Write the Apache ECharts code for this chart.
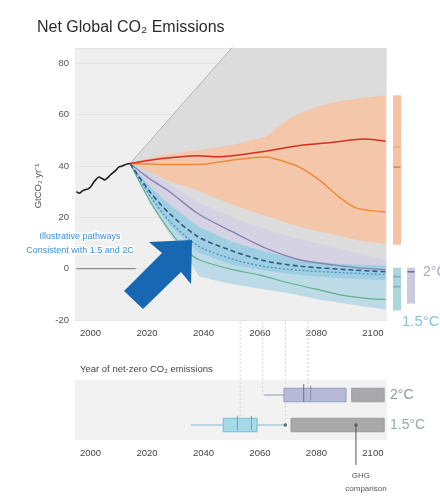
<!DOCTYPE html>
<html>
<head>
<meta charset="utf-8">
<script src="https://cdn.jsdelivr.net/npm/echarts@6/dist/echarts.min.js"></script>
<style>
  html, body { margin: 0; padding: 0; background: #ffffff; }
  #chart { width: 440px; height: 497px; }
</style>
</head>
<body>
<div id="chart"></div>
<script>
// ---- Axis ticks ----
const yearTicks = [2000, 2020, 2040, 2060, 2080, 2100];
const emissionTicks = [-20, 0, 20, 40, 60, 80];

// ---- Net global CO2 emissions, GtCO2 per year, as [year, value] ----
const historical = [[1995, 30], [1996, 29.4], [1997, 30.2], [1998, 30.8], [1999, 31], [2000, 31.8],
  [2001, 33.5], [2002, 34.8], [2003, 35.7], [2004, 35.2], [2005, 34.6], [2006, 35.4], [2007, 36.5],
  [2008, 37.4], [2009, 38.4], [2010, 39.6], [2011, 39.9], [2012, 40.4], [2013, 40.8], [2014, 41]];

// full scenario envelope (upper edge)
const scenarioTop = [[2014, 41], [2050, 86], [2105, 155]];

// no-policy baseline range and two baseline pathways
const baselineUpper = [[2014, 41], [2021, 43.1], [2028, 44.7], [2038, 46.2], [2050, 48.2], [2062, 51.3],
  [2068, 56.7], [2074, 60.6], [2080, 62.9], [2086, 64.9], [2095, 66.4], [2104.5, 67.6]];
const baselineLower = [[2014, 41], [2021, 37.7], [2028, 34], [2038, 30.5], [2050, 25], [2062, 20.5],
  [2074, 16.3], [2086, 13.3], [2095, 11], [2104.5, 9.7]];
const baselineHigh = [[2014, 41], [2021, 42.3], [2030, 43.4], [2038, 44], [2045, 43.6], [2050, 44],
  [2062, 45.8], [2074, 48], [2086, 49.3], [2097, 50.5], [2104.5, 49.7]];
const baselineMid = [[2014, 41], [2021, 40.8], [2030, 40.6], [2038, 40.6], [2050, 42.3], [2062, 43.5],
  [2069, 41.6], [2074, 39.6], [2081, 34.6], [2088, 28], [2094, 23.7], [2104.5, 22.1]];

// 2 °C and 1.5 °C ranges
const twoDegreeUpper = [[2014, 41], [2021, 37.5], [2028, 33], [2038, 26], [2050, 20], [2062, 15.5],
  [2074, 11.5], [2086, 8.5], [2095, 6], [2104.5, 3.5]];
const onePointFiveUpper = [[2014, 41], [2021, 32], [2028, 25], [2038, 16.5], [2050, 10.5], [2062, 6.6],
  [2074, 3.5], [2086, 2], [2095, 1.5], [2104.5, 1.2]];
const onePointFiveCoreLower = [[2014, 41], [2021, 27.5], [2028, 17], [2038, 6.5], [2050, 1.5], [2062, -0.8],
  [2074, -2.5], [2086, -3.5], [2095, -4], [2104.5, -4.5]];
const onePointFiveLower = [[2014, 41], [2017, 36], [2021, 25.5], [2028, 13.5], [2034, 5], [2038.5, -3],
  [2048, -5.5], [2057, -7.2], [2069, -9.3], [2081, -12], [2092.5, -14], [2104.5, -15.9]];

// illustrative pathways
const pathwayTwoDegree = [[2014, 41], [2021, 35], [2028, 30], [2038, 21.5], [2050, 14.5], [2062, 8],
  [2074, 3.5], [2086, 1.5], [2095, 0.3], [2104.5, -0.4]];
const pathwayDashed = [[2014, 41], [2021, 30], [2028, 21.5], [2038, 12.5], [2050, 7], [2062, 3],
  [2074, 1], [2091, -0.4], [2104.5, -1.2]];
const pathwayDotted = [[2014, 41], [2021, 28.5], [2028, 18.5], [2038, 9], [2050, 3.8], [2062, 0.8],
  [2074, -0.6], [2090, -1.6], [2104.5, -2.3]];
const pathwayDeep = [[2014, 41], [2021, 26.5], [2028, 14.8], [2034, 7], [2038.5, 3.5], [2050, -0.3],
  [2060, -2.5], [2070, -5.5], [2080, -8], [2090, -10.5], [2100, -11.8], [2104.5, -12]];
const zeroReference = [[1995, 0], [2016, 0]];

// ---- Ranges in 2100 (side bars) ----
const sideColumns = ['baseline / 1.5°C', '2°C'];
const range2100Baseline = [9.3, 67.6];
const range2100OnePointFive = [-16.3, 0.4];
const range2100TwoDegree = [-13.6, 0.4];
const marks2100Baseline = [39.6, 47.4];
const marks2100OnePointFive = [-3.1, -7];
const marks2100TwoDegree = [-1.2];

// ---- Year of net-zero CO2 emissions ----
const netZeroRows = ['1.5°C', '2°C'];
const twoDegreeWhisker = [2061.5, 2068.5];
const twoDegreeBox = [2068.5, 2090.5];
const twoDegreeMedian = 2075.5;
const twoDegreeTicks = [2078];
const twoDegreeGhg = [2092.5, 2104];
const onePointFiveWhisker = [2035.5, 2069];
const onePointFiveBox = [2047, 2059];
const onePointFiveTicks = [2052, 2057];
const onePointFiveOutlier = 2069;
const onePointFiveGhg = [2071, 2104];
const onePointFiveGhgMark = 2094;
const netZeroGuides = [[2053, 0], [2061, 1], [2069, 0], [2077, 1]];

const FONT = '"Liberation Sans", Arial, sans-serif';

// polygon band between two edges, drawn through the cartesian scales
function band(upper, lower, color, z) {
  const ring = upper.concat(lower.slice().reverse());
  return {
    type: 'custom', xAxisIndex: 0, yAxisIndex: 0, clip: true, silent: true, z: z || 2,
    encode: { x: 0, y: 1 },
    data: ring,
    renderItem(params, api) {
      if (params.dataIndex !== 0) return;
      return { type: 'polygon', shape: { points: ring.map(p => api.coord(p)) }, style: { fill: color } };
    }
  };
}
function path(data, color, width, type) {
  return {
    type: 'line', xAxisIndex: 0, yAxisIndex: 0, data, showSymbol: false, symbol: 'none',
    smooth: 0.3, silent: true, lineStyle: { color, width, type: type || 'solid' }
  };
}

// side range bars
function sideBars(items) {
  return {
    type: 'custom', xAxisIndex: 2, yAxisIndex: 2, silent: true, data: items,
    renderItem(params, api) {
      const lo = api.coord([api.value(0), api.value(1)]);
      const hi = api.coord([api.value(0), api.value(2)]);
      const w = api.size([1, 0])[0] * 0.58;
      return { type: 'rect', shape: { x: lo[0] - w / 2, y: hi[1], width: w, height: lo[1] - hi[1] },
        style: { fill: api.visual('color') } };
    }
  };
}
function sideMarks(items) {
  return {
    type: 'custom', xAxisIndex: 2, yAxisIndex: 2, silent: true, data: items, z: 3,
    renderItem(params, api) {
      const p = api.coord([api.value(0), api.value(1)]);
      const w = api.size([1, 0])[0] * 0.5;
      return { type: 'line', shape: { x1: p[0] - w / 2, y1: p[1], x2: p[0] + w / 2, y2: p[1] },
        style: { stroke: api.visual('color'), lineWidth: 1.5 } };
    }
  };
}

// net-zero boxes: [start, end, row]
function nzRects(items, heightRatio) {
  return {
    type: 'custom', xAxisIndex: 1, yAxisIndex: 1, silent: true, data: items,
    renderItem(params, api) {
      const a = api.coord([api.value(0), api.value(2)]);
      const b = api.coord([api.value(1), api.value(2)]);
      const h = api.size([0, 1])[1] * heightRatio;
      return { type: 'rect', shape: { x: a[0], y: a[1] - h / 2, width: b[0] - a[0], height: h },
        style: { fill: api.visual('color'), stroke: api.visual('borderColor'), lineWidth: 1 } };
    }
  };
}
function nzLines(items) {
  return {
    type: 'custom', xAxisIndex: 1, yAxisIndex: 1, silent: true, data: items,
    renderItem(params, api) {
      const a = api.coord([api.value(0), api.value(2)]);
      const b = api.coord([api.value(1), api.value(2)]);
      return { type: 'line', shape: { x1: a[0], y1: a[1], x2: b[0], y2: b[1] },
        style: { stroke: api.visual('color'), lineWidth: 1 } };
    }
  };
}
// vertical marks on a box: [year, row, extent ratio]
function nzTicks(items) {
  return {
    type: 'custom', xAxisIndex: 1, yAxisIndex: 1, silent: true, data: items, z: 4,
    renderItem(params, api) {
      const p = api.coord([api.value(0), api.value(1)]);
      const h = api.size([0, 1])[1] * api.value(2);
      return { type: 'line', shape: { x1: p[0], y1: p[1] - h / 2, x2: p[0], y2: p[1] + h / 2 - 4 },
        style: { stroke: api.visual('color'), lineWidth: 1 } };
    }
  };
}

const baseAxisX = (gridIndex) => ({
  gridIndex, type: 'value', min: 1994.5, max: 2105,
  axisLine: { show: false }, axisTick: { show: false }, splitLine: { show: false },
  axisLabel: { customValues: yearTicks, formatter: v => String(v), color: '#444', fontSize: 9.5, fontFamily: FONT, margin: 8 }
});

const option = {
  animation: false,
  backgroundColor: '#ffffff',
  textStyle: { fontFamily: FONT },
  grid: [
    { left: 75, right: 53, top: 48, bottom: 177, show: true, backgroundColor: '#efefef', borderWidth: 0 },
    { left: 75, right: 53, top: 380, bottom: 57, show: true, backgroundColor: '#f2f2f2', borderWidth: 0 },
    { left: 390, right: 22, top: 48, bottom: 177, show: false }
  ],
  xAxis: [
    baseAxisX(0),
    baseAxisX(1),
    { gridIndex: 2, type: 'category', data: sideColumns, show: false }
  ],
  yAxis: [
    { gridIndex: 0, type: 'value', min: -20, max: 86, interval: 20,
      axisLine: { show: false }, axisTick: { show: false },
      splitLine: { show: true, lineStyle: { color: '#e4e4e4', width: 1 } },
      axisLabel: { customValues: emissionTicks, formatter: v => String(v), color: '#555', fontSize: 9.5, fontFamily: FONT, margin: 6 } },
    { gridIndex: 1, type: 'category', data: netZeroRows, position: 'right',
      axisLine: { show: false }, axisTick: { show: false }, splitLine: { show: false },
      axisLabel: { margin: 3, fontSize: 14, fontFamily: FONT,
        formatter: v => v === '2°C' ? '{b|' + v + '}' : '{a|' + v + '}',
        rich: { a: { color: '#9aa7b2', fontSize: 14, fontFamily: FONT }, b: { color: '#8f96ad', fontSize: 14, fontFamily: FONT } } } },
    { gridIndex: 2, type: 'value', min: -20, max: 86, show: false }
  ],
  series: [
    band(scenarioTop, onePointFiveLower, '#dcdcdd'),
    band(baselineUpper, baselineLower, '#f4c6aa'),
    band(twoDegreeUpper, onePointFiveUpper, '#d4d2e3'),
    band(onePointFiveUpper, onePointFiveLower, '#bcdbe7'),
    band(onePointFiveUpper, onePointFiveCoreLower, '#9fcee3'),
    path(scenarioTop, '#b4b4b4', 1),
    path(zeroReference, '#8a8a8a', 1.2),
    path(pathwayDeep, '#62b08c', 1.2),
    path(pathwayTwoDegree, '#8b82b2', 1.4),
    path(pathwayDotted, '#4a93c4', 1.3, [2, 2]),
    path(pathwayDashed, '#2c5b85', 1.6, [5, 3]),
    path(baselineMid, '#ef8a3a', 1.5),
    path(baselineHigh, '#d62f22', 1.5),
    path(historical, '#1e1e1e', 1.6),

    sideBars([
      { value: [0, range2100Baseline[0], range2100Baseline[1]], itemStyle: { color: '#f4c3a6' } },
      { value: [0, range2100OnePointFive[0], range2100OnePointFive[1]], itemStyle: { color: '#acd6db' } },
      { value: [1, range2100TwoDegree[0], range2100TwoDegree[1]], itemStyle: { color: '#cdc9de' } }
    ]),
    sideMarks(
      marks2100Baseline.map((v, i) => ({ value: [0, v], itemStyle: { color: i === 0 ? '#e27d45' : '#efa58a' } }))
        .concat(marks2100OnePointFive.map(v => ({ value: [0, v], itemStyle: { color: '#6fb1b9' } })))
        .concat(marks2100TwoDegree.map(v => ({ value: [1, v], itemStyle: { color: '#6e6a94' } })))
    ),

    nzLines([
      { value: [twoDegreeWhisker[0], twoDegreeWhisker[1], 1], itemStyle: { color: '#8d96b0' } },
      { value: [onePointFiveWhisker[0], onePointFiveWhisker[1], 0], itemStyle: { color: '#82b6cf' } }
    ]),
    nzRects([
      { value: [twoDegreeBox[0], twoDegreeBox[1], 1], itemStyle: { color: '#b6bad6', borderColor: '#959ac0' } },
      { value: [twoDegreeGhg[0], twoDegreeGhg[1], 1], itemStyle: { color: '#a9a9ab', borderColor: '#9c9c9e' } },
      { value: [onePointFiveBox[0], onePointFiveBox[1], 0], itemStyle: { color: '#a6d9e9', borderColor: '#74bdd6' } },
      { value: [onePointFiveGhg[0], onePointFiveGhg[1], 0], itemStyle: { color: '#a9a9a9', borderColor: '#9c9c9c' } }
    ], 0.45),
    nzTicks([
      { value: [twoDegreeMedian, 1, 0.45 + 0.27], itemStyle: { color: '#6a6e92' } }
    ].concat(twoDegreeTicks.map(v => ({ value: [v, 1, 0.62], itemStyle: { color: '#8a8ea8' } })))
     .concat(onePointFiveTicks.map(v => ({ value: [v, 0, 0.62], itemStyle: { color: '#5fa6c6' } })))),
    {
      type: 'scatter', xAxisIndex: 1, yAxisIndex: 1, silent: true, symbolSize: 3.5, z: 5,
      itemStyle: { color: '#4a4a4a' },
      data: [[onePointFiveOutlier, 0], [onePointFiveGhgMark, 0]]
    }
  ]
};

const chart = echarts.init(document.getElementById('chart'), null, { renderer: 'canvas' });
chart.setOption(option);

// annotations placed after layout so guides follow the x scale
const xPix = yr => chart.convertToPixel({ xAxisIndex: 1 }, yr);
const rowPix = r => chart.convertToPixel({ yAxisIndex: 1 }, r);
const guides = netZeroGuides.map(g => ({
  type: 'line', silent: true, z: 1,
  shape: { x1: xPix(g[0]), y1: 322, x2: xPix(g[0]), y2: rowPix(g[1]) },
  style: { stroke: '#d6d6d6', lineWidth: 1, lineDash: [2, 2] }
}));
const ghgX = xPix(onePointFiveGhgMark);

chart.setOption({
  graphic: guides.concat([
    { type: 'text', x: 37, y: 28, silent: true,
      style: { text: 'Net Global CO₂ Emissions', font: '16px ' + FONT, fill: '#2b2b2b', align: 'left', verticalAlign: 'middle' } },
    { type: 'text', x: 38, y: 186, rotation: Math.PI / 2, silent: true,
      style: { text: 'GtCO₂ yr⁻¹', font: '9.5px ' + FONT, fill: '#555', align: 'center', verticalAlign: 'middle' } },
    { type: 'polygon', silent: true, z: 50,
      shape: { points: [[192, 240], [191, 284], [181, 272], [143, 309], [124, 291], [162, 253], [149, 242]] },
      style: { fill: '#1767b3' } },
    { type: 'text', x: 80, y: 237, silent: true, z: 51,
      style: { text: 'Illustrative pathways', font: '9px ' + FONT, fill: '#3f8fd2', align: 'center', verticalAlign: 'middle',
        stroke: '#ffffff', lineWidth: 3 } },
    { type: 'text', x: 80, y: 251, silent: true, z: 51,
      style: { text: 'Consistent with 1.5 and 2C', font: '9px ' + FONT, fill: '#3f8fd2', align: 'center', verticalAlign: 'middle',
        stroke: '#ffffff', lineWidth: 3 } },
    { type: 'text', x: 423, y: 272, silent: true,
      style: { text: '2°C', font: '14px ' + FONT, fill: '#a9a7c7', align: 'left', verticalAlign: 'middle' } },
    { type: 'text', x: 402, y: 322, silent: true,
      style: { text: '1.5°C', font: '15px ' + FONT, fill: '#86c4de', align: 'left', verticalAlign: 'middle' } },
    { type: 'text', x: 80, y: 369, silent: true,
      style: { text: 'Year of net-zero CO₂ emissions', font: '9.5px ' + FONT, fill: '#444', align: 'left', verticalAlign: 'middle' } },
    { type: 'line', silent: true, z: 6,
      shape: { x1: ghgX, y1: rowPix(0), x2: ghgX, y2: 465 },
      style: { stroke: '#555', lineWidth: 1 } },
    { type: 'text', x: ghgX + 5, y: 476, silent: true,
      style: { text: 'GHG', font: '8px ' + FONT, fill: '#555', align: 'center', verticalAlign: 'middle' } },
    { type: 'text', x: ghgX + 10, y: 489, silent: true,
      style: { text: 'comparison', font: '8px ' + FONT, fill: '#555', align: 'center', verticalAlign: 'middle' } }
  ])
});
</script>
</body>
</html>
